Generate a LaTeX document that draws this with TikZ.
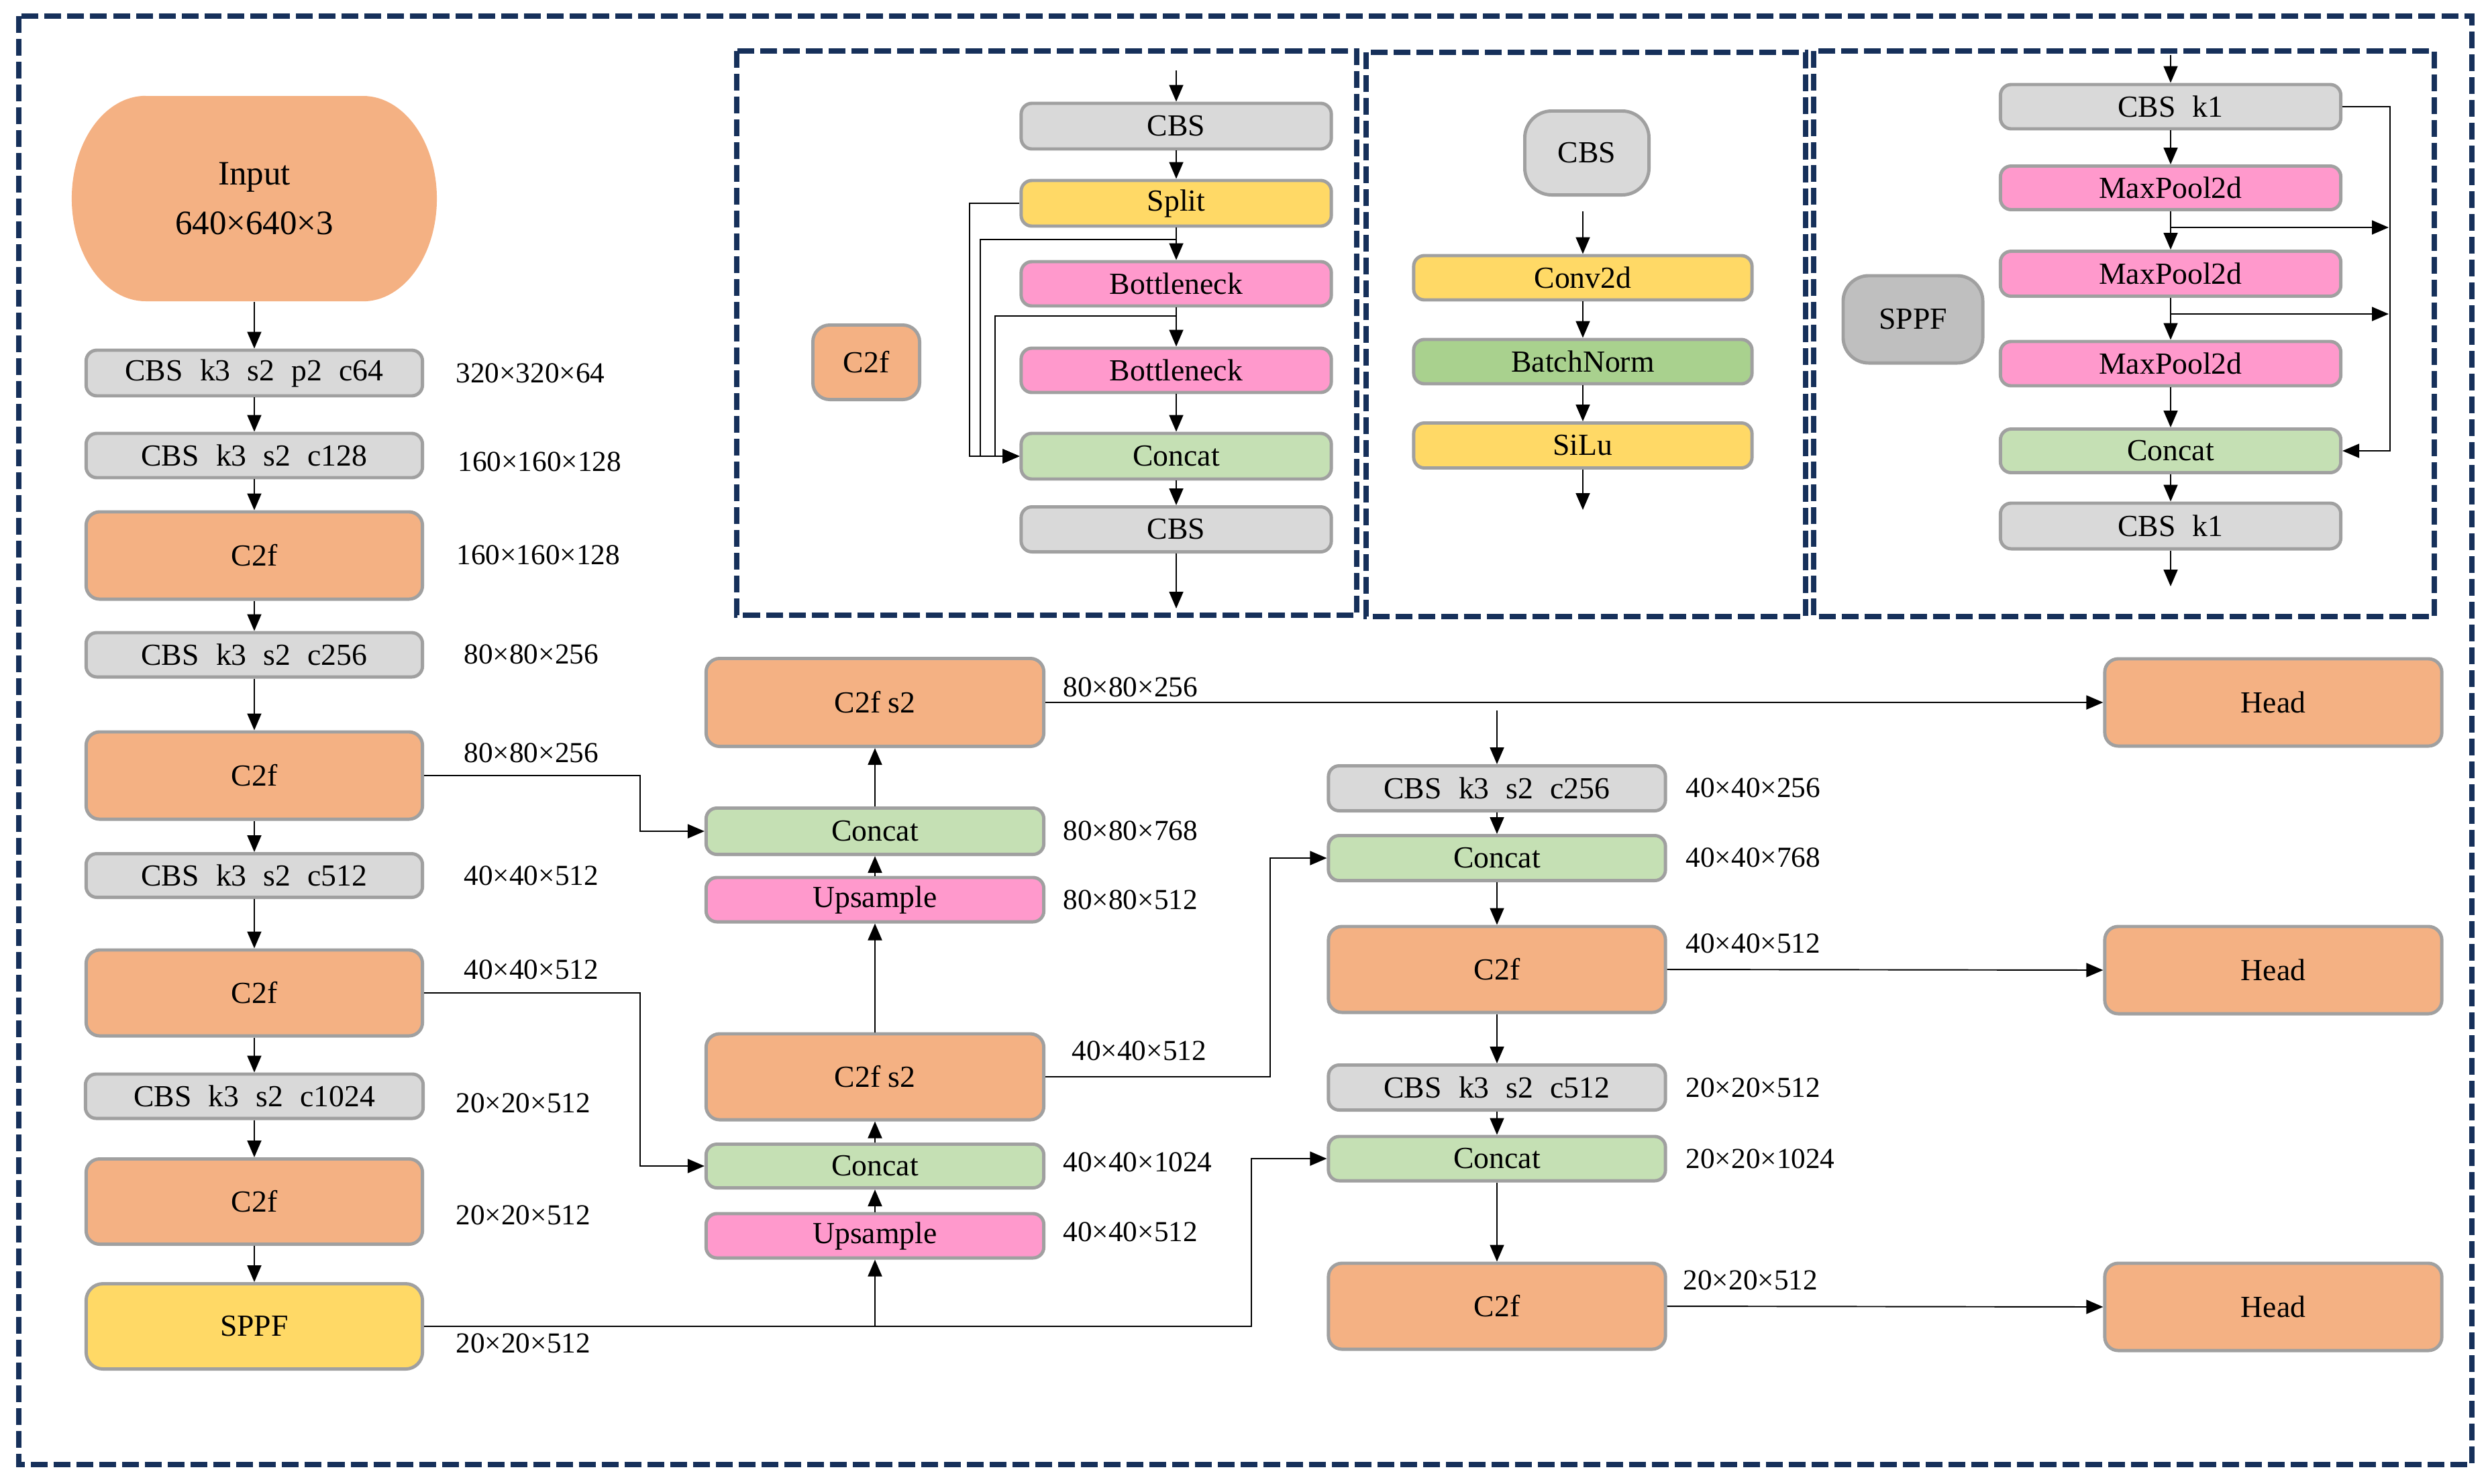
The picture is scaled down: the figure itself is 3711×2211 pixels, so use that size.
\documentclass[tikz,border=0pt]{standalone}
\usepackage{fontspec}
\setmainfont{Liberation Serif}
\usetikzlibrary{arrows.meta,calc}
\definecolor{navy}{HTML}{16305A}
\definecolor{bord}{HTML}{A0A0A0}
\definecolor{cgray}{HTML}{D9D9D9}
\definecolor{cgray2}{HTML}{BFBFBF}
\definecolor{corange}{HTML}{F4B183}
\definecolor{cyellow}{HTML}{FFD966}
\definecolor{cpink}{HTML}{FF99CC}
\definecolor{cgreen}{HTML}{C5E0B4}
\definecolor{cgreen2}{HTML}{A9D18E}
\newcommand{\gapp}{\hspace{0.55em}}
\tikzset{
  blk/.style={draw=bord, line width=1.4pt, rounded corners=0.16cm, inner sep=0pt, align=center, font=\fontsize{13}{15}\selectfont},
  gbox/.style={blk, fill=cgray},
  obox/.style={blk, fill=corange, rounded corners=0.2cm},
  ybox/.style={blk, fill=cyellow},
  pbox/.style={blk, fill=cpink},
  gnbox/.style={blk, fill=cgreen},
  gn2box/.style={blk, fill=cgreen2},
  sz/.style 2 args={minimum width=#1 cm, minimum height=#2 cm},
  lbl/.style={anchor=west, inner sep=0pt, font=\fontsize{12.3}{14}\selectfont},
  arr/.style={-{Triangle[length=0.25cm,width=0.21cm]}, line width=0.55pt},
  dbox/.style={draw=navy, line width=2.4pt, dash pattern=on 0.25cm off 0.09cm},
}
\begin{document}
\begin{tikzpicture}[x=0.01cm,y=-0.01cm]
\useasboundingbox (0,0) rectangle (3711,2211);
% borders
\draw[dbox] (28,24) rectangle (3684,2183);
\draw[dbox] (1098,76) rectangle (2022,917);
\draw[dbox] (2036,78) rectangle (2691,919);
\draw[dbox] (2703,76) rectangle (3628,919);

% left column
\fill[corange] (217,143) -- (541,143) arc[start angle=90,end angle=-90,x radius=1.1cm,y radius=1.53cm] -- (217,449) arc[start angle=270,end angle=90,x radius=1.1cm,y radius=1.53cm] -- cycle;
\node[sz={5.44}{3.06}, inner sep=0pt, align=center, font=\fontsize{14.5}{21}\selectfont] (in) at (379,296) {Input\\640×640×3};
\node[gbox, sz={5.01}{0.68}] (cbs1) at (379,556) {CBS\gapp k3\gapp s2\gapp p2\gapp c64};
\node[gbox, sz={5.01}{0.66}] (cbs2) at (379,679) {CBS\gapp k3\gapp s2\gapp c128};
\node[obox, sz={5.01}{1.30}] (c2f1) at (379,828) {C2f};
\node[gbox, sz={5.01}{0.66}] (cbs3) at (379,976) {CBS\gapp k3\gapp s2\gapp c256};
\node[obox, sz={5.01}{1.30}] (c2f2) at (379,1156) {C2f};
\node[gbox, sz={5.01}{0.65}] (cbs4) at (379,1305) {CBS\gapp k3\gapp s2\gapp c512};
\node[obox, sz={5.01}{1.28}] (c2f3) at (379,1480) {C2f};
\node[gbox, sz={5.03}{0.66}] (cbs5) at (379,1634) {CBS\gapp k3\gapp s2\gapp c1024};
\node[obox, sz={5.01}{1.27}] (c2f4) at (379,1791) {C2f};
\node[ybox, sz={5.01}{1.27}, rounded corners=0.25cm] (sppf) at (379,1977) {SPPF};

\node[lbl] (l1) at (679,556) {320×320×64};
\node[lbl] (l2) at (682,688) {160×160×128};
\node[lbl] (l3) at (680,827) {160×160×128};
\node[lbl] (l4) at (691,975) {80×80×256};
\node[lbl] (l5) at (691,1122) {80×80×256};
\node[lbl] (l6) at (691,1305) {40×40×512};
\node[lbl] (l7) at (691,1445) {40×40×512};
\node[lbl] (l8) at (679,1644) {20×20×512};
\node[lbl] (l9) at (679,1811) {20×20×512};
\node[lbl] (l10) at (679,2002) {20×20×512};

\draw[arr] (in.south) -- (cbs1);
\draw[arr] (cbs1) -- (cbs2);
\draw[arr] (cbs2) -- (c2f1);
\draw[arr] (c2f1) -- (cbs3);
\draw[arr] (cbs3) -- (c2f2);
\draw[arr] (c2f2) -- (cbs4);
\draw[arr] (cbs4) -- (c2f3);
\draw[arr] (c2f3) -- (cbs5);
\draw[arr] (cbs5) -- (c2f4);
\draw[arr] (c2f4) -- (sppf);

% middle column
\node[obox, sz={5.03}{1.31}] (c2fsa) at (1304,1047) {C2f s2};
\node[gnbox, sz={5.03}{0.69}] (cata) at (1304,1239) {Concat};
\node[pbox, sz={5.03}{0.66}] (upa) at (1304,1341) {Upsample};
\node[obox, sz={5.03}{1.28}] (c2fsb) at (1304,1605) {C2f s2};
\node[gnbox, sz={5.03}{0.65}] (catb) at (1304,1738) {Concat};
\node[pbox, sz={5.03}{0.66}] (upb) at (1304,1842) {Upsample};

\node[lbl] (m1) at (1584,1024) {80×80×256};
\node[lbl] (m2) at (1584,1238) {80×80×768};
\node[lbl] (m3) at (1584,1341) {80×80×512};
\node[lbl] (m4) at (1597,1566) {40×40×512};
\node[lbl] (m5) at (1584,1732) {40×40×1024};
\node[lbl] (m6) at (1584,1836) {40×40×512};

\draw[arr] (upb) -- (catb);
\draw[arr] (catb) -- (c2fsb);
\draw[arr] (c2fsb) -- (upa);
\draw[arr] (upa) -- (cata);
\draw[arr] (cata) -- (c2fsa);
\draw[arr] (c2f2.east) -- (954,1156) |- (cata.west);
\draw[arr] (c2f3.east) -- (954,1480) |- (catb.west);

% right column
\node[gbox, sz={5.02}{0.67}] (rcbs1) at (2231,1175) {CBS\gapp k3\gapp s2\gapp c256};
\node[gnbox, sz={5.02}{0.67}] (rcat1) at (2231,1279) {Concat};
\node[obox, sz={5.02}{1.28}] (rc2f1) at (2231,1445) {C2f};
\node[gbox, sz={5.02}{0.67}] (rcbs2) at (2231,1621) {CBS\gapp k3\gapp s2\gapp c512};
\node[gnbox, sz={5.02}{0.66}] (rcat2) at (2231,1727) {Concat};
\node[obox, sz={5.02}{1.28}] (rc2f2) at (2231,1947) {C2f};

\node[lbl] (r1) at (2512,1174) {40×40×256};
\node[lbl] (r2) at (2512,1278) {40×40×768};
\node[lbl] (r3) at (2512,1406) {40×40×512};
\node[lbl] (r4) at (2512,1621) {20×20×512};
\node[lbl] (r5) at (2512,1727) {20×20×1024};
\node[lbl] (r6) at (2508,1908) {20×20×512};

\node[obox, sz={5.02}{1.30}] (hda) at (3388,1047) {Head};
\node[obox, sz={5.02}{1.30}] (hdb) at (3388,1446) {Head};
\node[obox, sz={5.02}{1.30}] (hdc) at (3388,1948) {Head};

\coordinate (tap) at (2231,1059);
\draw[arr] (tap) -- (rcbs1);
\draw[arr] (rcbs1) -- (rcat1);
\draw[arr] (rcat1) -- (rc2f1);
\draw[arr] (rc2f1) -- (rcbs2);
\draw[arr] (rcbs2) -- (rcat2);
\draw[arr] (rcat2) -- (rc2f2);
\draw[arr] (c2fsa.east) -- (hda.west);
\draw[arr] (rc2f1.east) -- (hdb.west);
\draw[arr] (rc2f2.east) -- (hdc.west);
\draw[arr] (c2fsb.east) -- (1893,1605) |- (rcat1.west);
\draw[arr] (sppf.east) -- (1865,1977) |- (rcat2.west);
\draw[arr] (sppf.east -| upb.south) -- (upb.south);

% panel C2f
\node[obox, sz={1.59}{1.11}, rounded corners=0.25cm] (pc2f) at (1291,540) {C2f};
\node[gbox, sz={4.62}{0.68}] (pcbs1) at (1753,188) {CBS};
\node[ybox, sz={4.62}{0.68}] (split) at (1753,303) {Split};
\node[pbox, sz={4.62}{0.66}] (bn1) at (1753,423) {Bottleneck};
\node[pbox, sz={4.62}{0.66}] (bn2) at (1753,552) {Bottleneck};
\node[gnbox, sz={4.62}{0.68}] (pcat) at (1753,680) {Concat};
\node[gbox, sz={4.62}{0.67}] (pcbs2) at (1753,789) {CBS};
\coordinate (p1in) at (1753,105);
\coordinate (p1out) at (1753,907);
\coordinate (t1) at (1753,357);
\coordinate (t2) at (1753,471);
\draw[arr] (p1in) -- (pcbs1);
\draw[arr] (pcbs1) -- (split);
\draw[arr] (split) -- (bn1);
\draw[arr] (bn1) -- (bn2);
\draw[arr] (bn2) -- (pcat);
\draw[arr] (pcat) -- (pcbs2);
\draw[arr] (pcbs2) -- (p1out);
\draw[arr] (split.west) -- (1445,303) |- (pcat.west);
\draw[arr] (t1) -| (1461,680) -- (pcat.west);
\draw[arr] (t2) -| (1483,680) -- (pcat.west);

% panel CBS
\node[gbox, sz={1.85}{1.25}, rounded corners=0.4cm] (bigcbs) at (2365,228) {CBS};
\node[ybox, sz={5.04}{0.66}] (conv) at (2359,414) {Conv2d};
\node[gn2box, sz={5.04}{0.66}] (bnorm) at (2359,539) {BatchNorm};
\node[ybox, sz={5.04}{0.67}] (silu) at (2359,664) {SiLu};
\coordinate (p2in) at (2359,315);
\coordinate (p2out) at (2359,760);
\draw[arr] (p2in) -- (conv);
\draw[arr] (conv) -- (bnorm);
\draw[arr] (bnorm) -- (silu);
\draw[arr] (silu) -- (p2out);

% panel SPPF
\node[blk, fill=cgray2, sz={2.08}{1.30}, rounded corners=0.38cm] (bigsppf) at (2851,476) {SPPF};
\node[gbox, sz={5.07}{0.66}] (sk1) at (3235,159) {CBS\gapp k1};
\node[pbox, sz={5.07}{0.65}] (mp1) at (3235,280) {MaxPool2d};
\node[pbox, sz={5.07}{0.67}] (mp2) at (3235,408) {MaxPool2d};
\node[pbox, sz={5.07}{0.66}] (mp3) at (3235,542) {MaxPool2d};
\node[gnbox, sz={5.07}{0.65}] (scat) at (3235,672) {Concat};
\node[gbox, sz={5.07}{0.68}] (sk2) at (3235,784) {CBS\gapp k1};
\coordinate (p3in) at (3235,82);
\coordinate (p3out) at (3235,874);
\coordinate (s1) at (3235,339);
\coordinate (s1e) at (3560,339);
\coordinate (s2) at (3235,468);
\coordinate (s2e) at (3560,468);
\draw[arr] (p3in) -- (sk1);
\draw[arr] (sk1) -- (mp1);
\draw[arr] (mp1) -- (mp2);
\draw[arr] (mp2) -- (mp3);
\draw[arr] (mp3) -- (scat);
\draw[arr] (scat) -- (sk2);
\draw[arr] (sk2) -- (p3out);
\draw[arr] (sk1.east) -- (3562,159) |- (scat.east);
\draw[arr] (s1) -- (s1e);
\draw[arr] (s2) -- (s2e);
\end{tikzpicture}
\end{document}
